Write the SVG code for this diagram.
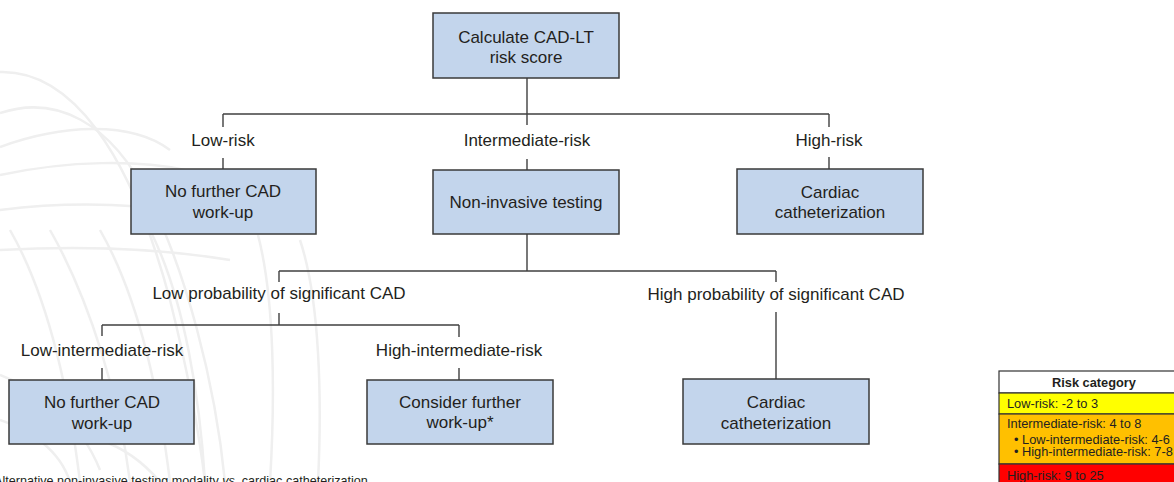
<svg xmlns="http://www.w3.org/2000/svg" width="1174" height="482" viewBox="0 0 1174 482">
<style>
  .wm { fill: none; stroke: #EFEFEF; stroke-width: 2.5; }
  .box { fill: #C3D5EC; stroke: #3A3A3A; stroke-width: 1.5; }
  .t { font-family: "Liberation Sans", Arial, sans-serif; font-size: 17px; fill: #231F20; text-anchor: middle; }
  .c { fill: none; stroke: #404040; stroke-width: 1.4; }
  .lg { font-family: "Liberation Sans", Arial, sans-serif; font-size: 12.8px; fill: #231F20; }
  .fn { font-family: "Liberation Sans", Arial, sans-serif; font-size: 12.6px; fill: #231F20; }
</style>
<rect width="1174" height="482" fill="#FFFFFF"/>
<g id="watermark">
  <path class="wm" d="M0,72 C70,70 130,150 170,300 C190,380 200,440 205,482"/>
  <path class="wm" d="M0,113 C55,95 110,120 150,200 C185,270 215,380 225,482"/>
  <path class="wm" d="M0,147 C60,125 130,120 170,150"/>
  <path class="wm" d="M0,175 C70,160 140,160 185,170"/>
  <path class="wm" d="M0,210 C80,200 150,205 200,215"/>
  <path class="wm" d="M0,250 C90,245 170,250 230,260"/>
  <path class="wm" d="M10,230 C50,300 70,400 80,482"/>
  <path class="wm" d="M50,230 C90,300 120,400 130,482"/>
  <path class="wm" d="M100,230 C140,300 160,400 170,482"/>
  <path class="wm" d="M150,230 C185,300 200,400 205,482"/>
  <path class="wm" d="M258,235 C275,300 275,400 270,482"/>
  <path class="wm" d="M300,240 C320,300 322,400 318,482"/>
  <path class="wm" d="M0,375 C40,390 80,420 100,470"/>
  <path class="wm" d="M0,420 C30,430 60,450 70,482"/>
  <path class="wm" d="M100,440 C130,450 150,470 160,482"/>
</g>
<g id="connectors">
  <path class="c" d="M527,78 V114 M223,114 H829 M223,114 V127 M527,114 V125 M829,114 V127"/>
  <path class="c" d="M223,158 V169 M527,159 V170 M829,157 V169"/>
  <path class="c" d="M527,234 V271 M279,271 H776 M279,271 V282 M776,271 V282"/>
  <path class="c" d="M279,313 V325 M102,325 H459 M102,325 V336 M459,325 V337"/>
  <path class="c" d="M102,368 V380 M459,368 V380 M776,312 V379"/>
</g>
<g id="labels">
  <text class="t" x="223" y="146">Low-risk</text>
  <text class="t" x="527" y="146">Intermediate-risk</text>
  <text class="t" x="829" y="146">High-risk</text>
  <text class="t" x="279" y="299">Low probability of significant CAD</text>
  <text class="t" x="776" y="300">High probability of significant CAD</text>
  <text class="t" x="102" y="356">Low-intermediate-risk</text>
  <text class="t" x="459" y="356">High-intermediate-risk</text>
</g>
<g id="node-calc">
  <rect class="box" x="433" y="13" width="186" height="65"/>
  <text class="t" x="526" y="43">Calculate CAD-LT</text>
  <text class="t" x="526" y="63">risk score</text>
</g>
<g id="node-low-nofurther">
  <rect class="box" x="131" y="169" width="185" height="65"/>
  <text class="t" x="223" y="197">No further CAD</text>
  <text class="t" x="223" y="218">work-up</text>
</g>
<g id="node-noninvasive">
  <rect class="box" x="433" y="170" width="186" height="64"/>
  <text class="t" x="526" y="208">Non-invasive testing</text>
</g>
<g id="node-high-cath">
  <rect class="box" x="737" y="169" width="186" height="65"/>
  <text class="t" x="830" y="198">Cardiac</text>
  <text class="t" x="830" y="218">catheterization</text>
</g>
<g id="node-lowint-nofurther">
  <rect class="box" x="9" y="380" width="185" height="64"/>
  <text class="t" x="102" y="408">No further CAD</text>
  <text class="t" x="102" y="429">work-up</text>
</g>
<g id="node-highint-consider">
  <rect class="box" x="367" y="380" width="186" height="64"/>
  <text class="t" x="460" y="408">Consider further</text>
  <text class="t" x="460" y="428">work-up*</text>
</g>
<g id="node-highprob-cath">
  <rect class="box" x="683" y="379" width="186" height="65"/>
  <text class="t" x="776" y="408">Cardiac</text>
  <text class="t" x="776" y="429">catheterization</text>
</g>
<g id="legend">
  <rect x="999" y="371" width="200" height="22" fill="#FFFFFF" stroke="#333333" stroke-width="1.2"/>
  <rect x="999" y="393" width="200" height="21" fill="#FFFF00" stroke="#333333" stroke-width="1.2"/>
  <rect x="999" y="414" width="200" height="50" fill="#FFC000" stroke="#333333" stroke-width="1.2"/>
  <rect x="999" y="464" width="200" height="30" fill="#FF0000" stroke="#333333" stroke-width="1.2"/>
  <text class="lg" x="1094" y="387" text-anchor="middle" font-weight="bold">Risk category</text>
  <text class="lg" x="1007" y="408">Low-risk: -2 to 3</text>
  <text class="lg" x="1007" y="428">Intermediate-risk: 4 to 8</text>
  <text class="lg" x="1014" y="444">• Low-intermediate-risk: 4-6</text>
  <text class="lg" x="1014" y="456">• High-intermediate-risk: 7-8</text>
  <text class="lg" x="1007" y="480">High-risk: 9 to 25</text>
</g>
<text class="fn" x="-6" y="485">Alternative non-invasive testing modality <tspan font-style="italic">vs.</tspan> cardiac catheterization</text>
</svg>
